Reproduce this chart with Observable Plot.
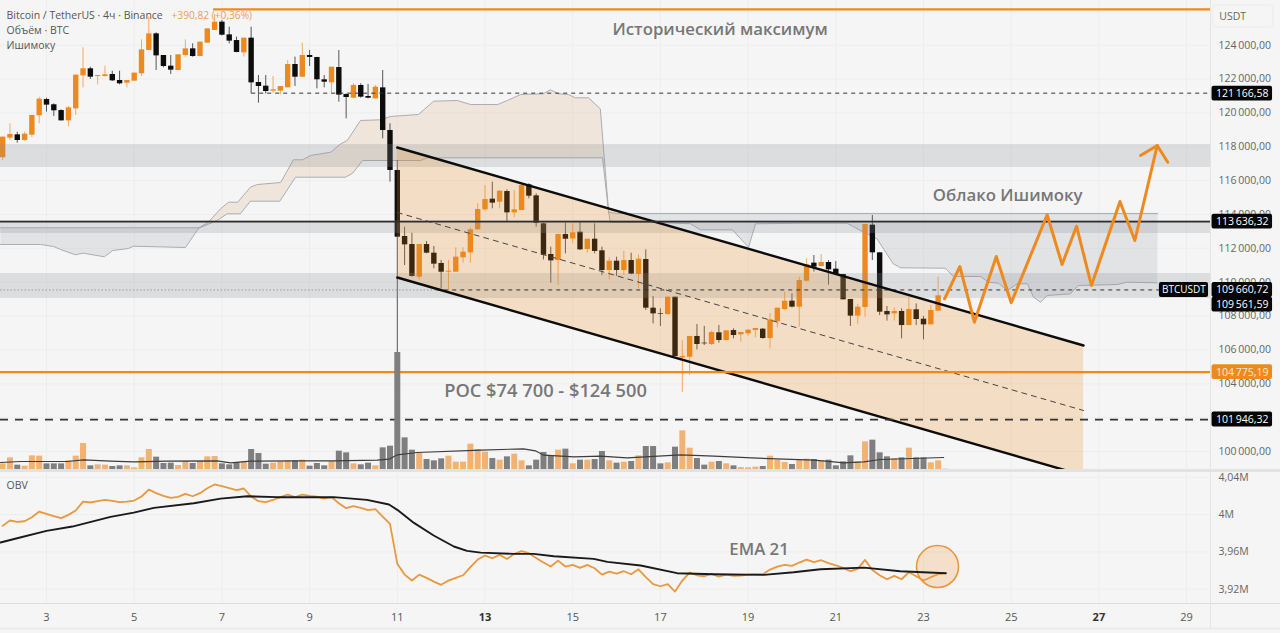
<!DOCTYPE html>
<html><head><meta charset="utf-8">
<script src="https://cdn.jsdelivr.net/npm/d3@7"></script>
<script src="https://cdn.jsdelivr.net/npm/@observablehq/plot@0.6"></script>
<style>
html,body{margin:0;padding:0;background:#f5f5f5;overflow:hidden}
#chart{position:relative;width:1280px;height:633px;background:#f5f5f5}
#chart svg{position:absolute;left:0}
</style></head><body><div id="chart"></div>
<script>
// ---- candles (4h) ----
const firstDay = 2, candlesPerDay = 6;
const opens = [117350,118510,118705,118370,118685,119830,120790,120480,120140,119530,120240,122190,122605,122150,122150,122270,121915,121755,121875,122310,123690,124670,123390,122760,122505,123390,123785,123330,124120,124870,125360,124610,124275,123550,124415,121795,121580,121285,121285,121480,122860,122110,123390,123275,121955,121775,122680,121085,120870,121620,120970,120830,121480,118960,116600,
112700,112225,110295,112225,111715,111105,110590,110590,111440,111735,113095,114275,114905,114725,115355,114095,114235,115750,115100,113450,111635,111280,112815,112560,112955,111930,112540,111855,110690,111240,110690,111280,110455,111340,108465,108130,108090,109115,105530,105570,106795,106400,106320,107010,106555,107145,106890,106950,107145,107225,106675,107660,108385,108880,108525,110060,111125,110925,111165,110770,110455,108980,107995,108505,113370,111735,108270,108130,108270,107440,108370,107815,107480,108290];
const closes = [118570,118725,118370,118745,119850,120810,120460,120125,119530,120300,122230,122605,122110,122210,122250,121895,121720,121915,122350,123725,124670,123370,122740,122525,123430,123785,123330,124180,124965,125360,124590,124240,123570,124415,121775,121560,121265,121365,121560,122860,122110,123390,123275,121955,121815,122700,121050,120910,121620,120930,120870,121520,118960,116600,112660,
112205,110335,112225,111715,111065,110590,110650,111480,111775,113095,114295,114885,114670,115375,114095,114275,115710,115080,113485,111595,111260,112815,112540,112915,111910,112540,111815,110690,111240,110690,111280,110475,111360,108465,108130,108090,109115,105610,105610,106795,106320,106360,107030,106555,107125,106850,107030,107165,107265,106675,107775,108465,108880,108525,110100,111025,110890,111165,110730,110455,108960,107995,108525,113410,111735,108230,108070,108270,107440,108385,107795,107480,108330,109195];
const highs = [118570,119355,118860,118860,119850,120930,120870,120535,120180,120380,122230,123845,122700,122210,122760,122465,122465,121915,122350,124315,125655,124730,123390,123390,123430,124315,124080,124180,124965,125815,125460,125065,124475,124415,125065,122210,122210,122150,121560,123095,123295,124120,123685,123275,122210,122700,123685,121125,121720,121720,121680,121620,122505,119355,117190,
113250,112895,112225,112405,112110,111280,111280,112030,112030,113210,114630,115710,115910,115415,115455,115415,115810,115810,115220,113485,112070,112855,113485,113450,113545,112540,113450,112070,111440,111480,111815,111715,111615,111910,109155,108425,109115,109115,106555,106795,107500,107385,107110,107440,107125,107245,107030,107185,107265,107265,108130,108465,109410,109315,110295,111380,111575,111635,111280,111225,110455,108980,108685,113410,113940,111735,108565,108485,108425,109115,108720,107975,108625,110295];
const lows = [117190,118370,118210,118330,118530,119355,120045,119790,119530,119195,119850,121480,121975,121660,122110,121855,121660,121480,121875,122150,123690,122505,122665,122270,122505,123295,123295,123330,124120,124870,124555,124080,123550,123295,121125,120575,121125,121165,121070,121480,121560,122110,122740,121420,121480,121125,120635,119650,120870,120870,120830,120830,118470,115910,101950,
110985,110295,110140,111675,110790,109610,109510,110590,111125,111125,113055,114195,114335,114335,113545,113800,114235,114925,113250,111320,109945,109805,111675,112265,111870,111715,111675,110395,110140,110335,110395,110435,109610,108330,107540,107385,108035,105610,103485,104490,106005,106260,106260,106400,106515,106655,106460,106795,106715,106635,106065,107305,108330,108485,107345,110000,110595,110890,109825,110395,108960,107385,107500,107935,111280,108035,107700,107700,106655,107440,107440,106595,107480,108290];
const volumes = [20,38,16,13,44,43,20,20,20,29,43,81,14,17,16,12,14,14,8,38,63,40,21,22,15,27,21,27,41,42,20,17,24,27,63,51,19,22,26,29,29,31,13,21,14,27,58,53,20,17,22,14,68,73,354,98,61,51,33,29,35,43,25,25,79,63,
55,36,31,41,49,29,14,31,54,45,61,64,20,31,31,33,57,29,22,25,27,44,72,72,20,23,70,119,67,36,16,25,27,20,14,9,8,10,12,43,31,24,18,31,34,33,29,31,14,26,44,26,86,91,53,41,36,38,67,38,38,23,29,4];
const volumeMA = [[1.95,24],[2.41,27],[3.47,27],[3.85,32],[4.46,28],[4.99,26],[5.75,28],[6.89,29],[7.2,23],[7.65,28],[8.79,29],[9.55,29],[10.54,31],[10.81,34],[11,47],[11.45,54],[12.9,61],[13.88,65],[14.15,59],[14.34,46],[15.03,41],[15.63,43],[16.24,38],[17.46,47],[18.22,43],[19.21,37],[20.5,31],[20.95,26],[21.18,23],[21.64,26],[22.02,33],[23.46,39]];
// ---- OBV ----
const obvValues = [3.9878,3.9936,3.9921,3.9928,3.9971,4.0032,4.0007,3.9982,3.9961,3.9996,4.0043,4.0139,4.0129,4.0143,4.0157,4.0146,4.0132,4.0139,4.015,4.0193,4.0268,4.0229,4.02,4.0179,4.0189,4.0221,4.0196,4.0229,4.0282,4.0322,4.0304,4.0282,4.0261,4.0279,4.0193,4.0143,4.0132,4.0157,4.0186,4.0214,4.0186,4.0214,4.02,4.0193,4.0171,4.0186,4.0121,4.0068,4.0089,4.0071,4.0046,4.0057,3.9978,3.99,3.9471,3.9356,3.9292,3.9356,3.9321,3.9281,3.9246,3.9292,3.9321,3.9349,3.9435,3.9517,
3.956,3.9531,3.9567,3.9524,3.9578,3.9607,3.9585,3.9535,3.9485,3.9442,3.9506,3.9442,3.946,3.9428,3.946,3.9424,3.9356,3.9388,3.9367,3.9392,3.936,3.9413,3.9328,3.9253,3.9231,3.9253,3.9174,3.9292,3.9378,3.9349,3.9338,3.9363,3.9335,3.9356,3.9342,3.9346,3.9356,3.936,3.936,3.941,3.9442,3.946,3.9449,3.9485,3.9517,3.9489,3.951,3.9478,3.9456,3.9428,3.9392,3.9417,3.9514,3.9406,3.9349,3.9306,3.9342,3.9306,3.9381,3.9338,3.9292,3.9328,3.936,3.9371];
const obvEma = [[1.95,3.97],[2.33,3.9746],[3,3.9825],[3.59,3.9871],[4.46,3.9975],[4.99,4.0021],[5.45,4.0071],[6.36,4.0121],[6.97,4.0171],[7.58,4.0196],[8.26,4.0186],[9.55,4.0186],[10.31,4.0157],[10.81,4.0107],[11,4.005],[11.38,3.991],[11.83,3.9775],[12.29,3.9657],[12.59,3.961],[12.9,3.9592],[13.66,3.9578],[14.11,3.9578],[14.57,3.9553],[15.48,3.9524],[15.79,3.9492],[16.55,3.9453],[17.38,3.9371],[18.22,3.936],[19.36,3.9353],[20.04,3.9381],[20.65,3.9413],[21.64,3.9431],[22.47,3.9392],[23.51,3.9371]];
const obvCircle = [[23.32,3.9442]];
// ---- Ichimoku cloud ----
const cloudLeftTop = [[1.95,113213],[6.47,113213]];
const cloudLeftBottom = [[1.95,112227],[2.86,112227],[3.16,112109],[3.32,111931],[3.66,111619],[3.84,111713],[4.32,111500],[4.51,111872],[4.87,111990],[4.98,112126],[6.17,112050],[6.33,112658],[6.47,113190]];
const cloudMidTop = [[6.47,113190],[6.69,113544],[6.97,114336],[7.15,114725],[7.36,114725],[7.65,115612],[7.81,115771],[8.34,115889],[8.63,117230],[8.84,117230],[9.02,117484],[9.48,117679],[9.71,118175],[9.86,118370],[10.16,119552],[10.62,119593],[10.84,119788],[11.48,119906],[11.83,120692],[12.37,120733],[12.67,120497],[13.29,120497],[13.51,120733],[13.81,121087],[14.33,121129],[14.49,121365],[14.68,121129],[14.9,121087],[15.06,120892],[15.36,120892],[15.63,120243],[15.82,114135]];
const cloudMidBottom = [[6.47,113190],[6.89,113645],[7.12,114040],[7.42,114040],[7.65,114785],[8.32,114785],[8.68,116202],[9.82,116202],[9.98,116438],[10.21,117189],[11.53,117189],[11.69,117348],[15.68,117348],[15.82,114135]];
const cloudRightTop = [[15.82,114135],[16,114060],[28.34,114060]];
const cloudRightBottom = [[15.82,114135],[15.86,113526],[16.96,113526],[17.69,113450],[17.91,113095],[18.64,113095],[19.01,112067],[19.17,113450],[20.26,113485],[21.26,113485],[21.56,113054],[21.94,112563],[22.31,111087],[22.48,110851],[23.5,110827],[23.68,110336],[24.3,110336],[24.48,110000],[24.71,109941],[24.91,109510],[25.14,109905],[25.37,109905],[25.51,109114],[25.67,108819],[25.82,109214],[26.35,109314],[26.53,109806],[27.42,109864],[27.64,110000],[28.33,109965]];
// ---- channel, projection, levels ----
const channelDays = [11,26.65];
const channelTop = [117957,106261];
const channelMid = [114117,102421];
const channelBottom = [110278,98582];
const projection = [[23.48,109019],[23.83,110927],[24.16,107637],[24.66,111518],[25,108783],[25.82,113981],[26.16,111045],[26.49,113308],[26.83,109805],[27.48,114767],[27.82,112463],[28.33,118075]];
const arrowHead = [[27.95,117484],[28.33,118075],[28.57,117088]];
const zones = [[116775,118134],[112877,113636],[109037,110514]];
const athLevel = 126110, athStartDay = 6.81;
const levelBlack = 113636.32, levelPoc = 104775.19, levelDashed = 101946.32, levelDotted = 121166.58, levelLast = 109660.72, levelLast2 = 109561.59;
const dottedStartDay = 7.68;
const priceTicks = [100000,102000,104000,106000,108000,110000,112000,114000,116000,118000,120000,122000,124000];
const obvTicks = [3.92,3.96,4,4.04];
const dayTicks = [3,5,7,9,11,15,17,19,21,23,25,29];
const boldDayTicks = [13,27];
const labelsPrice = [
  {text:"Исторический максимум",day:18.36,price:124930},
  {text:"Облако Ишимоку",day:24.92,price:115120}
];
const labelPoc = {text:"POC $74 700 - $124 500",day:14.38,price:103544};
const labelObv = {text:"EMA 21",day:19.25,value:3.9625};
const headerLine1 = "Bitcoin / TetherUS · 4ч · Binance";
const headerLine2 = "Объём · BTC";
const headerLine3 = "Ишимоку";
const headerChange = "+390,82 (+0,36%)";
const blackTags = [levelDotted, levelBlack, levelDashed];

// ---- scales ----
const xDomain = [1.951,29.545], rightEdge = 30.96, axisRight = 31.14, footerRule = 3.8778;
const priceDomain = [98877,126640], obvDomain = [3.9046,4.0472];
const fontFamily = '"Open Sans","Noto Sans",sans-serif';
const base = {width:1280,marginLeft:0,marginRight:70,marginTop:0,marginBottom:0,
  x:{domain:xDomain,axis:null},style:{background:"transparent",fontFamily,overflow:"visible"}};
const ORANGE="#ee8a1d", GRID="#ededed", BAND="#8a8e98";
const locale = d3.formatLocale({decimal:",",thousands:"\u2009",grouping:[3],currency:["",""]});
const fmt = locale.format(",.2f");
const pt = ([day,v])=>({day,v});
const candles = opens.map((o,i)=>({day:firstDay+i/candlesPerDay,o,c:closes[i],h:highs[i],l:lows[i],up:closes[i]>=o}));
const vols = volumes.map((v,i)=>({day:firstDay+i/candlesPerDay,v,up:i<candles.length?candles[i].up:true}));
const obv = obvValues.map((v,i)=>({day:firstDay+i/candlesPerDay,v}));
const channel = channelDays.map((day,i)=>({day,top:channelTop[i],mid:channelMid[i],bot:channelBottom[i]}));
const polygon = (a,b)=>[...a,...[...b].reverse()].map(pt);
const cloudLine = a=>Plot.line(a.map(pt),{x:"day",y:"v",stroke:"#a9adb3",strokeWidth:1});
const cloudFill = (a,b,f,op)=>Plot.line(polygon(a,b),{x:"day",y:"v",stroke:"none",fill:f,fillOpacity:op});
const header = (s,dx,dy,fill,size)=>Plot.text([s],{frameAnchor:"top-left",text:d=>d,dx,dy,fontSize:size,fill,lineAnchor:"middle"});
const tag = (v,fill,dy)=>Plot.rect([v],{x1:29.58,x2:rightEdge,y1:d=>d-440,y2:d=>d+440,fill,rx:2,dy});
const tagText = (v,fill,dy)=>Plot.text([v],{x:30.27,y:d=>d,text:d=>fmt(d),fontSize:10.5,fontWeight:500,fill,dy});

const pricePlot = Plot.plot({...base,height:470,y:{domain:priceDomain,axis:null},marks:[
  Plot.ruleX([...dayTicks,...boldDayTicks],{stroke:GRID}),
  Plot.ruleY(priceTicks,{stroke:GRID,x1:xDomain[0],x2:xDomain[1]}),
  cloudFill(cloudLeftTop,cloudLeftBottom,BAND,.17),
  cloudFill(cloudMidTop,cloudMidBottom,"#d89a5a",.17),
  cloudFill(cloudRightTop,cloudRightBottom,BAND,.17),
  cloudLine(cloudLeftTop),cloudLine(cloudLeftBottom),cloudLine(cloudMidTop),cloudLine(cloudMidBottom),cloudLine(cloudRightTop),cloudLine(cloudRightBottom),
  Plot.ruleX(candles.filter(d=>d.up),{x:"day",y1:"l",y2:"h",stroke:"#f2aa62",strokeWidth:1}),
  Plot.ruleX(candles.filter(d=>!d.up),{x:"day",y1:"l",y2:"h",stroke:"#555",strokeWidth:1}),
  Plot.ruleX(candles.filter(d=>d.up),{x:"day",y1:"o",y2:"c",stroke:ORANGE,strokeWidth:5.4}),
  Plot.ruleX(candles.filter(d=>!d.up),{x:"day",y1:"o",y2:"c",stroke:"#0c0c0c",strokeWidth:5.4}),
  Plot.rect(zones,{x1:xDomain[0],x2:xDomain[1],y1:d=>d[0],y2:d=>d[1],fill:BAND,fillOpacity:.23}),
  Plot.areaY(channel,{x:"day",y1:"bot",y2:"top",fill:ORANGE,fillOpacity:.22,clip:true}),
  Plot.ruleY([levelLast],{x1:xDomain[0],x2:11.9,stroke:"#999",strokeWidth:1,strokeDasharray:"1.5,2",dy:2}),
  Plot.ruleY([levelLast],{x1:11.9,x2:28.38,stroke:"#333",strokeWidth:1,strokeDasharray:"4,4",dy:2}),
  Plot.line(channel,{x:"day",y:"mid",stroke:"#444",strokeWidth:1,strokeDasharray:"5,5"}),
  Plot.line(channel,{x:"day",y:"top",stroke:"#0c0c0c",strokeWidth:2.4}),
  Plot.line(channel,{x:"day",y:"bot",stroke:"#0c0c0c",strokeWidth:2.4,clip:true}),
  Plot.ruleY([levelDotted],{x1:dottedStartDay,x2:xDomain[1],stroke:"#333",strokeWidth:1,strokeDasharray:"4,4"}),
  Plot.ruleY([levelBlack],{x1:xDomain[0],x2:xDomain[1],stroke:"#2e2e2e",strokeWidth:1.8,dy:1}),
  Plot.ruleY([levelDashed],{x1:xDomain[0],x2:xDomain[1],stroke:"#333",strokeWidth:1.7,strokeDasharray:"8,7",dy:1}),
  Plot.ruleY([levelPoc],{x1:xDomain[0],x2:xDomain[1],stroke:ORANGE,strokeWidth:2.2,dy:1.5}),
  Plot.ruleY([athLevel],{x1:athStartDay,x2:xDomain[1],stroke:ORANGE,strokeWidth:2.2}),
  Plot.line(projection.map(pt),{x:"day",y:"v",stroke:ORANGE,strokeWidth:3}),
  Plot.line(arrowHead.map(pt),{x:"day",y:"v",stroke:ORANGE,strokeWidth:3}),
  Plot.text(labelsPrice,{x:"day",y:"price",text:"text",fontSize:16.8,fontWeight:600,fill:"#777"}),
  Plot.text([labelPoc],{x:"day",y:"price",text:"text",fontSize:18.3,fontWeight:600,fill:"#777"}),
  header(headerLine1,6,15,"#555",10.5),
  header(headerLine2,6,30,"#555",10.5),
  header(headerLine3,6,45,"#555",10.5),
  header(headerChange,171,15,"#eb9f57",10.2),
  Plot.ruleX([xDomain[1]],{stroke:"#e4e4e4"}),
  Plot.axisY(priceTicks,{anchor:"right",tickSize:0,tickPadding:8,label:null,color:"#666",fontSize:10.5,tickFormat:fmt}),
  Plot.rect([0],{x1:29.61,x2:30.98,y1:125045,y2:126345,fill:"#f5f5f5",stroke:"#ebebeb",rx:4}),
  Plot.text(["USDT"],{x:30.05,y:125695,text:d=>d,fontSize:10.5,fill:"#666"}),
  tag(levelDotted,"#050505",.5), tagText(levelDotted,"#fff",.5),
  tag(levelBlack,"#050505",1), tagText(levelBlack,"#fff",1),
  tag(levelDashed,"#050505",1), tagText(levelDashed,"#fff",1),
  tag(levelPoc,ORANGE,1.5), tagText(levelPoc,"#fdebd5",1.5),
  tag(levelLast,"#050505",2), tag(levelLast2,"#050505",15),
  tagText(levelLast,"#fff",2), tagText(levelLast2,"#fff",15),
  Plot.rect([levelLast],{x1:28.38,x2:29.5,y1:d=>d-440,y2:d=>d+440,fill:"#050505",rx:2,dy:2}),
  Plot.text(["BTCUSDT"],{x:28.94,y:levelLast,text:d=>d,fontSize:10,fontWeight:500,fill:"#fff",dy:2})
]});

const volumePlot = Plot.plot({...base,height:118,y:{domain:[0,354],axis:null},marks:[
  Plot.ruleX(vols.filter(d=>d.up),{x:"day",y1:0,y2:"v",stroke:"#f1b273",strokeWidth:6}),
  Plot.ruleX(vols.filter(d=>!d.up),{x:"day",y1:0,y2:"v",stroke:"#7f7f7f",strokeWidth:6}),
  Plot.line(volumeMA.map(pt),{x:"day",y:"v",stroke:"#3d3d3d",strokeWidth:1.1})
]});

const obvPlot = Plot.plot({...base,height:163,marginBottom:30,y:{domain:obvDomain,axis:null},marks:[
  Plot.ruleX([...dayTicks,...boldDayTicks],{stroke:GRID}),
  Plot.ruleY(obvTicks,{stroke:GRID,x1:xDomain[0],x2:xDomain[1]}),
  Plot.ruleY([obvDomain[1]],{x1:xDomain[0],x2:axisRight,stroke:"#e2e2e2",strokeWidth:3}),
  Plot.ruleY([obvDomain[0]],{x1:xDomain[0],x2:axisRight,stroke:"#dcdcdc",strokeWidth:1}),
  Plot.ruleY([footerRule],{x1:xDomain[0],x2:axisRight,stroke:"#ebebeb",strokeWidth:2}),
  Plot.ruleX([xDomain[1]],{y1:footerRule,y2:obvDomain[1],stroke:"#e4e4e4"}),
  Plot.dot(obvCircle,{x:d=>d[0],y:d=>d[1],r:21,fill:ORANGE,fillOpacity:.2,stroke:"#e8963c",strokeWidth:1.6}),
  Plot.line(obv,{x:"day",y:"v",stroke:"#e8983f",strokeWidth:1.8}),
  Plot.line(obvEma.map(pt),{x:"day",y:"v",stroke:"#1a1a1a",strokeWidth:1.9}),
  Plot.text([labelObv],{x:"day",y:"value",text:"text",fontSize:16.8,fontWeight:600,fill:"#777"}),
  Plot.text(["OBV"],{frameAnchor:"top-left",text:d=>d,dx:6,dy:15,fontSize:10.5,fill:"#555",lineAnchor:"middle"}),
  Plot.axisY(obvTicks,{anchor:"right",tickSize:0,tickPadding:8,label:null,color:"#666",fontSize:10.5,tickFormat:d=>String(d).replace(".",",")+"M"}),
  Plot.axisX(dayTicks,{tickSize:0,tickPadding:10,label:null,color:"#555",fontSize:11,tickFormat:d=>String(d)}),
  Plot.axisX(boldDayTicks,{tickSize:0,tickPadding:10,label:null,color:"#333",fontSize:11,fontWeight:700,tickFormat:d=>String(d)})
]});

const root = document.getElementById("chart");
pricePlot.style.top = "0px";
volumePlot.style.top = "352px";
obvPlot.style.top = "470px";
root.append(pricePlot,volumePlot,obvPlot);
</script></body></html>
